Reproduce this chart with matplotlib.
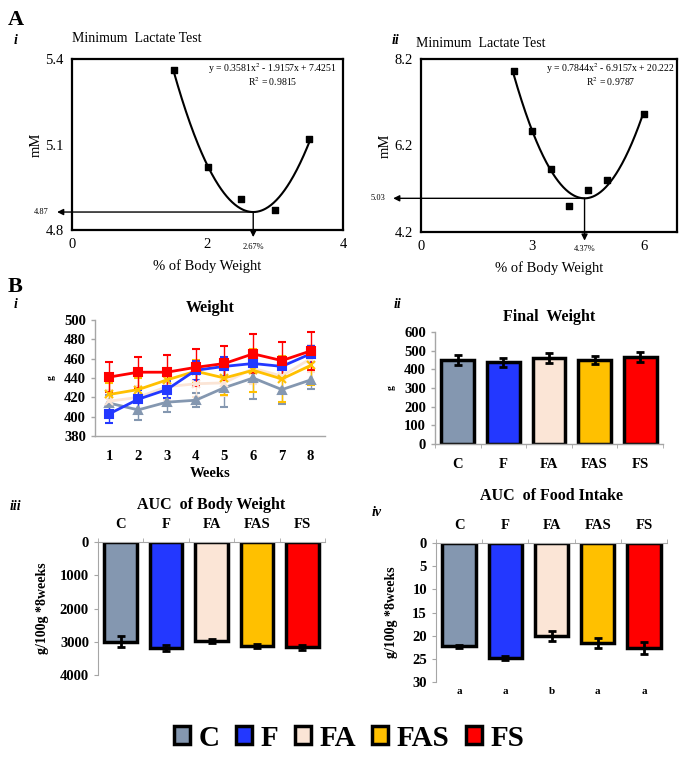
import numpy as np
import matplotlib
matplotlib.use("Agg")
import matplotlib.pyplot as plt
from matplotlib.patches import Patch
import matplotlib.transforms as mtransforms

plt.rcParams['font.family'] = ['Liberation Serif', 'DejaVu Serif']
plt.rcParams['mathtext.fontset'] = 'stix'

# ---------------- data ----------------
groups = ['C', 'F', 'FA', 'FAS', 'FS']
colors = ['#8497B0', '#2338FF', '#FBE5D6', '#FFC000', '#FF0000']

lact_i_x = [1.5, 2.0, 2.5, 3.0, 3.5]
lact_i_y = [5.36, 5.02, 4.91, 4.87, 5.12]
coef_i = [0.3581, -1.9157, 7.4251]
r2_i = 0.9815

lact_ii_x = [2.5, 3.0, 3.5, 4.0, 4.5, 5.0, 6.0]
lact_ii_y = [7.92, 6.54, 5.66, 4.81, 5.17, 5.41, 6.93]
coef_ii = [0.7844, -6.9157, 20.222]
r2_ii = 0.9787

weeks = [1, 2, 3, 4, 5, 6, 7, 8]
w_C = [414, 407, 415, 417, 430, 440, 428, 438]
w_F = [403, 418, 428, 448, 452, 455, 452, 465]
w_FA = [416, 420, 431, 434, 435, 450, 442, 460]
w_FAS = [423, 428, 438, 447, 440, 448, 439, 453]
w_FS = [441, 446, 446, 451, 455, 465, 458, 468]
e_C = [8, 10, 10, 7, 20, 22, 15, 9]
e_F = [10, 10, 9, 10, 10, 10, 10, 8]
e_FA = [12, 12, 14, 14, 14, 16, 16, 14]
e_FAS = [12, 12, 12, 12, 18, 22, 24, 20]
e_FS = [16, 16, 18, 19, 18, 20, 19, 20]

final_w = [450, 438, 460, 450, 467]
final_e = [25, 25, 25, 22, 28]

auc_bw = [3000, 3190, 2985, 3140, 3170]
auc_bw_e = [160, 80, 60, 60, 80]

auc_food = [22.3, 24.8, 20.1, 21.6, 22.6]
auc_food_e = [0.3, 0.4, 1.0, 1.0, 1.3]
food_letters = ['a', 'a', 'b', 'a', 'a']

# ---------------- figure ----------------
W, H = 685, 762
fig = plt.figure(figsize=(W / 100, H / 100), dpi=100)


def ax_px(x0, y0, x1, y1):
    return fig.add_axes([x0 / W, 1 - y1 / H, (x1 - x0) / W, (y1 - y0) / H])


def fig_text(x, y, s, **kw):
    fig.text(x / W, 1 - y / H, s, **kw)


# ----- Panel A -----
def lactate_panel(ax, xs, ys, coef, r2, xlim, ylim, xticks, yticks, ylab_txt, xlab_txt, hx_end, vy_end):
    ax.set_xlim(*xlim)
    ax.set_ylim(*ylim)
    ax.scatter(xs, ys, marker='s', s=22, color='black', zorder=3)
    xx = np.linspace(min(xs), max(xs), 200)
    ax.plot(xx, np.polyval(coef, xx), color='black', lw=1.5)
    for sp in ax.spines.values():
        sp.set_linewidth(1.6)
    ax.set_xticks(xticks)
    ax.set_yticks(yticks)
    ax.set_yticklabels([f'{v:.1f}' for v in yticks])
    ax.tick_params(length=0, labelsize=10.5, pad=6)
    ax.set_ylabel('mM', fontsize=10.5, labelpad=2)
    ax.set_xlabel('% of Body Weight', fontsize=10.5, labelpad=6)
    a, b, c = coef
    eq = f'y = {a}x$^2$ - {abs(b)}x + {c}'
    ax.text(0.74, 0.99, eq, transform=ax.transAxes, ha='center', va='top', fontsize=7)
    ax.text(0.74, 0.905, f'R$^2$ = {r2}', transform=ax.transAxes, ha='center', va='top', fontsize=7)
    xm = -b / (2 * a)
    ym = np.polyval(coef, xm)
    ax.annotate('', xy=(hx_end, ym), xytext=(xm, ym), annotation_clip=False,
                arrowprops=dict(arrowstyle='-|>', color='black', lw=1.0, mutation_scale=9,
                                shrinkA=0, shrinkB=0))
    ax.annotate('', xy=(xm, vy_end), xytext=(xm, ym), annotation_clip=False,
                arrowprops=dict(arrowstyle='-|>', color='black', lw=1.0, mutation_scale=9,
                                shrinkA=0, shrinkB=0))
    ax.text(hx_end - (xlim[1] - xlim[0]) * 0.03, ym, ylab_txt, ha='right', va='center', fontsize=6)
    ax.text(xm, ylim[0] - (ylim[1] - ylim[0]) * 0.1, xlab_txt, ha='center', va='center', fontsize=6)
    return ax


axA1 = ax_px(72, 59, 343, 230)
lactate_panel(axA1, lact_i_x, lact_i_y, coef_i, r2_i, (0, 4), (4.8, 5.4), [0, 2, 4],
              [4.8, 5.1, 5.4], '4.87', '2.67%', -0.22, 4.775)
axA1.text(0.0, 1.08, 'Minimum  Lactate Test', transform=axA1.transAxes, fontsize=10, ha='left', va='bottom')

axA2 = ax_px(421, 59, 677, 232)
lactate_panel(axA2, lact_ii_x, lact_ii_y, coef_ii, r2_ii, (0, 6.9), (4.2, 8.2), [0, 3, 6],
              [4.2, 6.2, 8.2], '5.03', '4.37%', -0.75, 4.0)
axA2.text(-0.02, 1.05, 'Minimum  Lactate Test', transform=axA2.transAxes, fontsize=10, ha='left', va='bottom')

fig_text(8, 20, 'A', fontsize=16, fontweight='bold', va='center')
fig_text(14, 40, 'i', fontsize=10, fontweight='bold', style='italic', va='center')
fig_text(392, 41, 'ii', fontsize=10, fontweight='bold', style='italic', va='center')
fig_text(8, 287, 'B', fontsize=16, fontweight='bold', va='center')

AXCOL = '#A6A6A6'


def style_b(ax):
    for s in ['top', 'right']:
        ax.spines[s].set_visible(False)
    for s in ['left', 'bottom']:
        ax.spines[s].set_color(AXCOL)
        ax.spines[s].set_linewidth(1.0)
    ax.tick_params(axis='both', colors=AXCOL, labelcolor='black', labelsize=10.5, width=1.0)
    for lbl in ax.get_xticklabels() + ax.get_yticklabels():
        lbl.set_fontweight('bold')


# ----- Panel B i -----
axB1 = ax_px(95, 320, 325, 436)
series = [(w_C, e_C, '^'), (w_FA, e_FA, 'x'), (w_FAS, e_FAS, 'x'), (w_F, e_F, 's'), (w_FS, e_FS, 's')]
order = [0, 2, 3, 1, 4]
for (vals, errs, mk), ci in zip(series, order):
    ax = axB1
    ax.errorbar(weeks, vals, yerr=errs, color=colors[ci], marker=mk, ms=5.5,
                mew=1.5, lw=2.0, capsize=3, elinewidth=1.0, capthick=1.0)
axB1.set_xlim(0.5, 8.5)
axB1.set_ylim(380, 500)
axB1.set_yticks(range(380, 501, 20))
axB1.set_xticks(weeks)
style_b(axB1)
axB1.tick_params(axis='x', length=0, pad=10)
axB1.tick_params(axis='y', length=3)
axB1.set_xlabel('Weeks', fontsize=10.5, fontweight='bold', labelpad=3)
axB1.set_ylabel('g', fontsize=7, fontweight='bold', labelpad=6)
axB1.set_title('Weight', fontsize=11.5, fontweight='bold', pad=6)
fig_text(14, 305, 'i', fontsize=10, fontweight='bold', style='italic', va='center')

xpos = np.arange(len(groups))

# ----- Panel B ii -----
axB2 = ax_px(435, 332, 663, 444)
axB2.bar(xpos, final_w, width=0.72, color=colors, edgecolor='black', linewidth=2.5, zorder=2)
axB2.errorbar(xpos, final_w, yerr=final_e, fmt='none', ecolor='black', elinewidth=2, capsize=3, capthick=2, zorder=3)
axB2.set_xlim(-0.5, 4.5)
axB2.set_ylim(0, 600)
axB2.set_yticks(range(0, 601, 100))
axB2.set_xticks(xpos)
axB2.set_xticklabels(groups)
axB2.set_xticks(np.arange(-0.5, 4.6, 1), minor=True)
style_b(axB2)
axB2.tick_params(axis='x', which='major', length=0, pad=10)
axB2.tick_params(axis='x', which='minor', length=3, color=AXCOL)
axB2.tick_params(axis='y', length=3)
axB2.set_ylabel('g', fontsize=7, fontweight='bold', labelpad=6)
axB2.set_title('Final  Weight', fontsize=11.5, fontweight='bold', pad=8)
fig_text(394, 305, 'ii', fontsize=10, fontweight='bold', style='italic', va='center')

# ----- Panel B iii -----
axB3 = ax_px(98, 542, 325, 675)
axB3.bar(xpos, auc_bw, width=0.72, color=colors, edgecolor='black', linewidth=2.5, zorder=2)
axB3.errorbar(xpos, auc_bw, yerr=auc_bw_e, fmt='none', ecolor='black', elinewidth=2, capsize=3, capthick=2, zorder=3)
axB3.set_xlim(-0.5, 4.5)
axB3.set_ylim(4000, 0)
axB3.set_yticks(range(0, 4001, 1000))
axB3.xaxis.tick_top()
axB3.set_xticks(xpos)
axB3.set_xticklabels(groups)
axB3.set_xticks(np.arange(-0.5, 4.6, 1), minor=True)
for s in ['bottom', 'right']:
    axB3.spines[s].set_visible(False)
for s in ['left', 'top']:
    axB3.spines[s].set_color(AXCOL)
axB3.tick_params(axis='both', colors=AXCOL, labelcolor='black', labelsize=10.5)
for lbl in axB3.get_xticklabels() + axB3.get_yticklabels():
    lbl.set_fontweight('bold')
axB3.tick_params(axis='x', which='major', length=0, pad=8)
axB3.tick_params(axis='x', which='minor', length=3, color=AXCOL, top=True, bottom=False)
axB3.tick_params(axis='y', length=3)
axB3.set_ylabel('g/100g *8weeks', fontsize=10, fontweight='bold', labelpad=8)
axB3.set_title('AUC  of Body Weight', fontsize=11.5, fontweight='bold', pad=24)
fig_text(10, 507, 'iii', fontsize=10, fontweight='bold', style='italic', va='center')

# ----- Panel B iv -----
axB4 = ax_px(436, 543, 667, 682)
axB4.bar(xpos, auc_food, width=0.72, color=colors, edgecolor='black', linewidth=2.5, zorder=2)
axB4.errorbar(xpos, auc_food, yerr=auc_food_e, fmt='none', ecolor='black', elinewidth=2, capsize=3, capthick=2, zorder=3)
axB4.set_xlim(-0.5, 4.5)
axB4.set_ylim(30, 0)
axB4.set_yticks(range(0, 31, 5))
axB4.xaxis.tick_top()
axB4.set_xticks(xpos)
axB4.set_xticklabels(groups)
axB4.set_xticks(np.arange(-0.5, 4.6, 1), minor=True)
for s in ['bottom', 'right']:
    axB4.spines[s].set_visible(False)
for s in ['left', 'top']:
    axB4.spines[s].set_color(AXCOL)
axB4.tick_params(axis='both', colors=AXCOL, labelcolor='black', labelsize=10.5)
for lbl in axB4.get_xticklabels() + axB4.get_yticklabels():
    lbl.set_fontweight('bold')
axB4.tick_params(axis='x', which='major', length=0, pad=8)
axB4.tick_params(axis='x', which='minor', length=3, color=AXCOL, top=True, bottom=False)
axB4.tick_params(axis='y', length=3)
axB4.set_ylabel('g/100g *8weeks', fontsize=10, fontweight='bold', labelpad=10)
axB4.set_title('AUC  of Food Intake', fontsize=11.5, fontweight='bold', pad=31)
trans = mtransforms.blended_transform_factory(axB4.transData, axB4.transAxes)
for xi, let in zip(xpos, food_letters):
    axB4.text(xi, -0.065, let, transform=trans, ha='center', va='center', fontsize=8, fontweight='bold')
fig_text(372, 512, 'iv', fontsize=10, fontweight='bold', style='italic', va='center')

# ----- legend -----
handles = [Patch(facecolor=c, edgecolor='black', linewidth=2.5) for c in colors]
fig.legend(handles, groups, loc='center', bbox_to_anchor=(0.51, 1 - 738 / H), ncol=5, frameon=False,
           prop={'weight': 'bold', 'size': 21}, handlelength=0.55, handleheight=0.55,
           handletextpad=0.3, columnspacing=0.55)

fig.savefig('out.png', dpi=100)
